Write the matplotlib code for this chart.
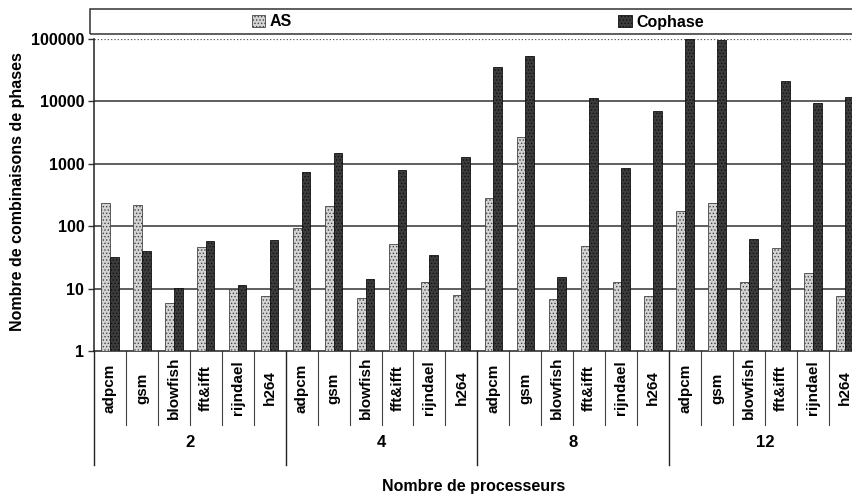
import numpy as np
import matplotlib
matplotlib.use('Agg')
import matplotlib.pyplot as plt
from matplotlib.patches import Rectangle, Patch

plt.rcParams['font.family'] = ['Liberation Sans', 'DejaVu Sans']
plt.rcParams['hatch.linewidth'] = 0.6

groups = ['2', '4', '8', '12']
benchmarks = ['adpcm', 'gsm', 'blowfish', 'fft&ifft', 'rijndael', 'h264']

# values per group, in benchmark order
as_vals = [
    [235, 218, 5.9, 46, 9.8, 7.6],
    [92, 210, 7, 51, 12.7, 7.9],
    [282, 2700, 6.8, 48, 12.7, 7.6],
    [173, 235, 12.7, 45, 17.8, 7.6],
]
cophase_vals = [
    [32, 40, 10.2, 58, 11.4, 60],
    [740, 1490, 14, 795, 35, 1300],
    [35500, 53000, 15.5, 11300, 860, 7000],
    [100000, 96000, 62, 21000, 9400, 11700],
]

as_flat = np.array(as_vals).ravel()
co_flat = np.array(cophase_vals).ravel()
n = len(as_flat)
x = np.arange(n)
w = 0.27

fig = plt.figure(figsize=(8.53, 4.97), dpi=100)
ax = fig.add_axes([94 / 853, 146 / 497, 759 / 853, 312 / 497])

ax.bar(x - w / 2, as_flat, w, bottom=0, color='#d4d4d4', edgecolor='#444444',
       hatch='.....', linewidth=0.6, zorder=3, label='AS')
ax.bar(x + w / 2, co_flat, w, bottom=0, color='#3c3c3c', edgecolor='#111111',
       hatch='.....', linewidth=0.6, zorder=3, label='Cophase')

ax.set_yscale('log')
ax.set_ylim(1, 100000)
ax.set_xlim(-0.5, -0.5 + 759 / 31.95)
ax.set_yticks([1, 10, 100, 1000, 10000, 100000])
ax.set_yticklabels(['1', '10', '100', '1000', '10000', '100000'],
                   fontsize=11.5, fontweight='bold')
ax.minorticks_off()
ax.set_xticks([])
ax.tick_params(axis='y', length=4, width=1, color='#333333', pad=3)

for v in [10, 100, 1000, 10000]:
    ax.axhline(v, color='#333333', lw=1.1, zorder=1)
ax.axhline(100000, color='#555555', lw=0.9, ls=':', zorder=1)

for s in ['top', 'right']:
    ax.spines[s].set_visible(False)
ax.spines['left'].set_color('#222222')
ax.spines['bottom'].set_color('#222222')
ax.spines['left'].set_linewidth(1.1)
ax.spines['bottom'].set_linewidth(1.1)

# multi-level category axis
tr = ax.get_xaxis_transform()
for i in range(n + 1):
    xb = i - 0.5
    if i % len(benchmarks) == 0:
        ax.plot([xb, xb], [0, -0.365], transform=tr, color='#222222', lw=1, clip_on=False)
    else:
        ax.plot([xb, xb], [0, -0.237], transform=tr, color='#444444', lw=0.8, clip_on=False)

for i in range(n):
    ax.text(i, -0.118, benchmarks[i % len(benchmarks)], transform=tr, rotation=90,
            ha='center', va='center', fontsize=11, fontweight='bold')

for g, name in enumerate(groups):
    xc = g * len(benchmarks) + (len(benchmarks) - 1) / 2
    ax.text(xc, -0.292, name, transform=tr, ha='center', va='center', fontsize=12,
            fontweight='bold', family=['Liberation Sans Narrow', 'Liberation Sans'])

fig.text((94 + 853) / 2 / 853, 1 - 486 / 497, 'Nombre de processeurs', ha='center',
         va='center', fontsize=11.5, fontweight='bold',
         family=['Liberation Sans Narrow', 'Liberation Sans'])
fig.text(18 / 853, 1 - 192 / 497, 'Nombre de combinaisons de phases', rotation=90,
         ha='center', va='center', fontsize=11.5, fontweight='bold')

# legend box
fig.patches.append(Rectangle((90 / 853, 1 - 34 / 497), (853 - 90) / 853 + 0.02, 25 / 497,
                             transform=fig.transFigure, fill=False, edgecolor='#333333',
                             lw=1.1))
h_as = Patch(facecolor='#d4d4d4', edgecolor='#444444', hatch='.....', lw=0.6)
h_co = Patch(facecolor='#3c3c3c', edgecolor='#111111', hatch='.....', lw=0.6)
fig.legend([h_as], ['AS'], loc='center', bbox_to_anchor=(272 / 853, 1 - 22 / 497),
           frameon=False, prop={'weight': 'bold', 'size': 11.5}, handlelength=0.85,
           handleheight=0.85, handletextpad=0.3)
fig.legend([h_co], ['Cophase'], loc='center', bbox_to_anchor=(661 / 853, 1 - 22 / 497),
           frameon=False, prop={'weight': 'bold', 'size': 11.5}, handlelength=0.85,
           handleheight=0.85, handletextpad=0.3)

fig.savefig('out.png', dpi=100)
